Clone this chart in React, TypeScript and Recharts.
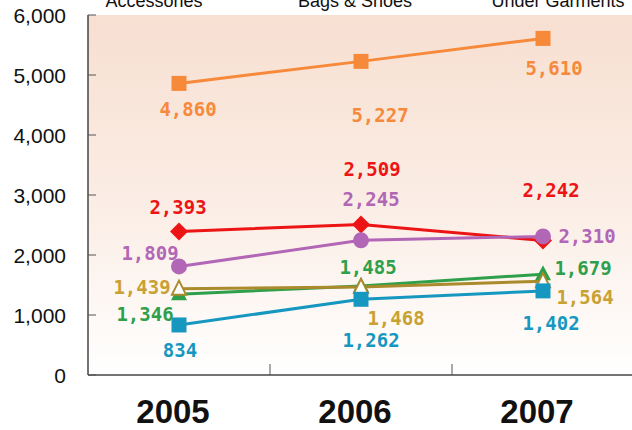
import { LineChart, Line, XAxis, YAxis, CartesianGrid, LabelList } from "recharts";

const years = ["2005", "2006", "2007"];
const groupNames = ["Accessories", "Bags & Shoes", "Under Garments"];
const yTicks = [0, 1000, 2000, 3000, 4000, 5000, 6000];

const orangeValues = [4860, 5227, 5610];
const redValues = [2393, 2509, 2242];
const purpleValues = [1809, 2245, 2310];
const greenValues = [1346, 1485, 1679];
const goldValues = [1439, 1468, 1564];
const blueValues = [834, 1262, 1402];

// label offsets from each marker (dx, dy)
const series = [
  { key: "orange", values: orangeValues, color: "#f7893b", label: "#f7893b", shape: "square", offsets: [[9, 26], [19, 54], [11, 30]] },
  { key: "red", values: redValues, color: "#ec1414", label: "#ec1414", shape: "diamond", offsets: [[-1, -24], [11, -55], [8, -50]] },
  { key: "purple", values: purpleValues, color: "#b266b6", label: "#b266b6", shape: "circle", offsets: [[-29, -13], [10, -41], [44, 0]] },
  { key: "green", values: greenValues, color: "#2e9f4a", label: "#2e9f4a", shape: "triangle", offsets: [[-34, 20], [7, -19], [40, -6]] },
  { key: "gold", values: goldValues, color: "#aa8a2c", label: "#c9a133", shape: "hollow", offsets: [[-37, -2], [35, 31], [42, 16]] },
  { key: "blue", values: blueValues, color: "#1697bf", label: "#1697bf", shape: "square", offsets: [[1, 25], [10, 41], [8, 32]] },
];

const data = years.map((year, i) => {
  const row: Record<string, any> = { year };
  series.forEach((s) => (row[s.key] = s.values[i]));
  return row;
});

const BAND = 182;

function makeDot(shape: string, color: string) {
  return (p: any) => {
    const { cx, cy, index } = p;
    if (cx == null || cy == null) return <g key={index} />;
    if (shape === "square")
      return <rect key={index} x={cx - 7.5} y={cy - 7.5} width={15} height={15} fill={color} />;
    if (shape === "diamond")
      return <polygon key={index} points={`${cx},${cy - 9} ${cx + 9},${cy} ${cx},${cy + 9} ${cx - 9},${cy}`} fill={color} />;
    if (shape === "circle") return <circle key={index} cx={cx} cy={cy} r={8} fill={color} />;
    if (shape === "triangle")
      return <polygon key={index} points={`${cx},${cy - 9} ${cx + 8},${cy + 6} ${cx - 8},${cy + 6}`} fill={color} />;
    return (
      <polygon
        key={index}
        points={`${cx},${cy - 8} ${cx + 7},${cy + 6} ${cx - 7},${cy + 6}`}
        fill="#fff"
        stroke={color}
        strokeWidth={2}
      />
    );
  };
}

function makeLabel(values: number[], color: string, offsets: number[][]) {
  return (p: any) => {
    const { x, y, value } = p;
    const i = p.index != null ? p.index : values.indexOf(value);
    const [dx, dy] = offsets[i] || [0, 0];
    return (
      <text
        key={i}
        x={x + dx}
        y={y + dy}
        textAnchor="middle"
        dominantBaseline="central"
        fill={color}
        fontFamily="'DejaVu Sans Mono', monospace"
        fontWeight="bold"
        fontSize={19}
      >
        {Number(value).toLocaleString("en-US")}
      </text>
    );
  };
}

const YTick = (p: any) => {
  const { x, y, payload } = p;
  return (
    <g>
      <line x1={x} x2={x + 8} y1={y} y2={y} stroke="#555" />
      <text x={x - 22} y={y} textAnchor="end" dominantBaseline="central" fontFamily="'Liberation Sans', Arial" fontSize={21} fill="#111">
        {payload.value.toLocaleString("en-US")}
      </text>
    </g>
  );
};

const XTick = (p: any) => {
  const { x, y, payload, index } = p;
  return (
    <g>
      {index > 0 && <line x1={x - BAND / 2} x2={x - BAND / 2} y1={y} y2={y - 11} stroke="#555" />}
      <text x={x - 6} y={y + 48} textAnchor="middle" fontFamily="'Liberation Sans', Arial" fontWeight="bold" fontSize={33} fill="#111">
        {payload.value}
      </text>
    </g>
  );
};

export default function App() {
  return (
    <div style={{ position: "absolute", left: 0, top: 0, width: 632, height: 430, overflow: "hidden", background: "#fff" }}>
      <LineChart width={640} height={430} data={data} margin={{ top: 15, right: 6, left: 0, bottom: 0 }}>
        <defs>
          <linearGradient id="bgFade" x1="0" y1="0" x2="0" y2="1">
            <stop offset="0%" stopColor="#f7dfd1" />
            <stop offset="55%" stopColor="#fbeee6" />
            <stop offset="100%" stopColor="#ffffff" />
          </linearGradient>
        </defs>
        <CartesianGrid horizontal={false} vertical={false} fill="url(#bgFade)" fillOpacity={1} />
        <XAxis
          dataKey="year"
          height={55}
          padding={{ left: BAND / 2, right: BAND / 2 }}
          axisLine={{ stroke: "#444", strokeWidth: 1.5 }}
          tickLine={false}
          tickSize={0}
          tickMargin={0}
          tick={XTick}
          interval={0}
        />
        <YAxis
          width={88}
          domain={[0, 6000]}
          ticks={yTicks}
          axisLine={{ stroke: "#444", strokeWidth: 1.5 }}
          tickLine={false}
          tickSize={0}
          tickMargin={0}
          tick={YTick}
          interval={0}
        />
        {series.map((s) => (
          <Line
            key={s.key}
            dataKey={s.key}
            stroke={s.color}
            strokeWidth={3}
            dot={makeDot(s.shape, s.color)}
            activeDot={false}
            isAnimationActive={false}
          >
            <LabelList dataKey={s.key} content={makeLabel(s.values, s.label, s.offsets)} />
          </Line>
        ))}
      </LineChart>
      <svg width={632} height={20} style={{ position: "absolute", left: 0, top: 0 }}>
        {[154, 355, 558].map((cx, i) => (
          <text key={groupNames[i]} x={cx} y={7} textAnchor="middle" fontFamily="'Liberation Sans', Arial" fontSize={18} fill="#111">
            {groupNames[i]}
          </text>
        ))}
      </svg>
    </div>
  );
}
